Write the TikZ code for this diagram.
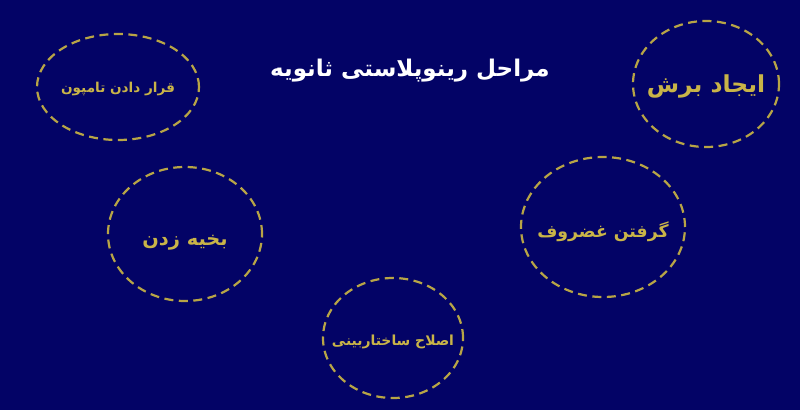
\documentclass[tikz,border=0pt]{standalone}
\usepackage{fontspec}
\setmainfont{DejaVu Sans}
\newfontfamily\arabicfont[Script=Arabic]{DejaVu Sans}
\TeXXeTstate=1
\usetikzlibrary{shapes.geometric}
\definecolor{bgnavy}{RGB}{3,3,102}
\definecolor{goldtext}{RGB}{201,180,72}
\definecolor{goldline}{RGB}{184,165,70}
\tikzset{
  stage/.style={ellipse, draw=goldline, line width=2.2pt, dash pattern=on 9pt off 5.5pt, inner sep=0pt},
  stagetext/.style={text=goldtext, inner sep=0pt},
}
\begin{document}
\begin{tikzpicture}[x=1pt,y=-1pt]
\fill[bgnavy] (0,0) rectangle (800,410);
\useasboundingbox (0,0) rectangle (800,410);
\node[text=white, font=\arabicfont\bfseries\fontsize{23}{26}\selectfont] (title) at (410,71) {\beginR مراحل رینوپلاستی ثانویه\endR};
\node[stage, minimum width=146pt, minimum height=126pt] (s1) at (706,84) {};
\node[stagetext, font=\arabicfont\bfseries\fontsize{23.4}{26}\selectfont] (t1) at ([yshift=-2pt]s1.center) {\beginR ایجاد برش\endR};
\node[stage, minimum width=162pt, minimum height=106pt] (s2) at (118,87) {};
\node[stagetext, font=\arabicfont\bfseries\fontsize{13.6}{16}\selectfont] (t2) at ([yshift=-1.5pt]s2.center) {\beginR قرار دادن تامپون\endR};
\node[stage, minimum width=154pt, minimum height=134pt] (s3) at (185,234) {};
\node[stagetext, font=\arabicfont\bfseries\fontsize{19.4}{22}\selectfont] (t3) at ([yshift=-9pt]s3.center) {\beginR بخیه زدن\endR};
\node[stage, minimum width=164pt, minimum height=140pt] (s4) at (603,227) {};
\node[stagetext, font=\arabicfont\bfseries\fontsize{17.3}{20}\selectfont] (t4) at ([yshift=-5pt]s4.center) {\beginR گرفتن غضروف\endR};
\node[stage, minimum width=140pt, minimum height=120pt] (s5) at (393,338) {};
\node[stagetext, font=\arabicfont\bfseries\fontsize{13.9}{16}\selectfont] (t5) at ([yshift=-4pt]s5.center) {\beginR اصلاح ساختاربینی\endR};
\end{tikzpicture}
\end{document}
